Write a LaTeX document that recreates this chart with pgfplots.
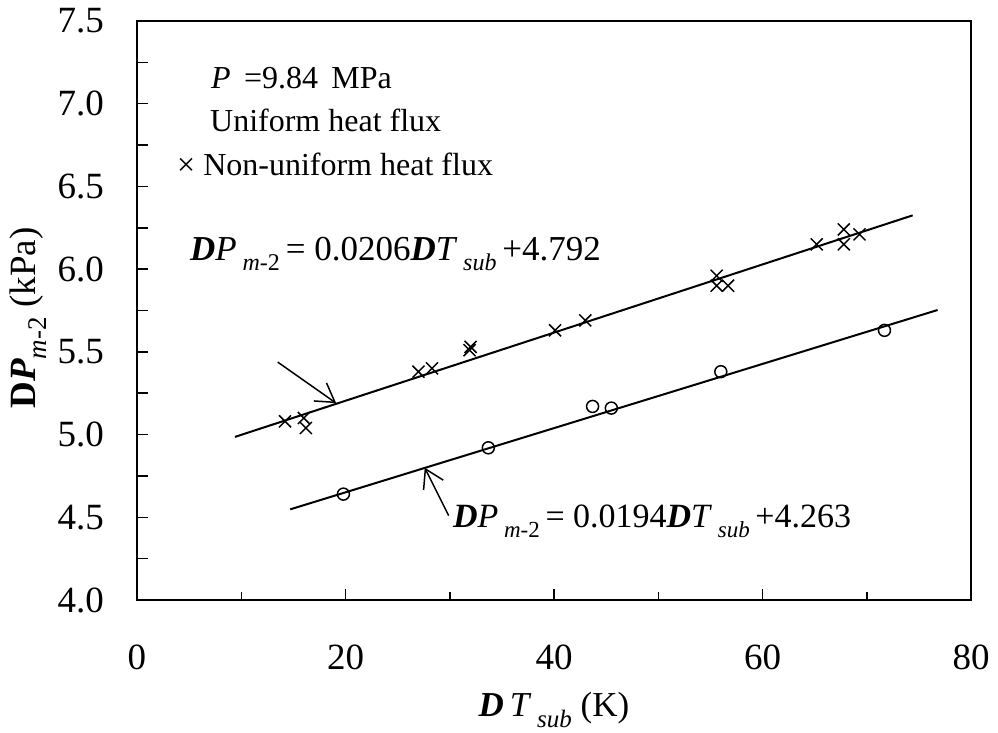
\documentclass[border=0pt]{standalone}
\usepackage{fontspec}
\setmainfont{Liberation Serif}
\usepackage{pgfplots}
\pgfplotsset{compat=1.18}
\usetikzlibrary{arrows.meta}
\newcommand{\fs}[1]{\fontsize{#1}{#1}\selectfont}
\newcommand{\sbs}[2][24]{\raisebox{-0.3em}{\fs{#1}#2}}
\begin{document}
\begin{tikzpicture}[x=1pt,y=1pt]
\useasboundingbox (0,0) rectangle (998,733);
\begin{axis}[
  at={(137pt,133pt)}, anchor=south west,
  width=834pt, height=579pt, scale only axis,
  xmin=0, xmax=80, ymin=4, ymax=7.5,
  axis line style={line width=2pt},
  xtick={0,20,40,60,80}, xticklabels={0,20,40,60,80},
  minor xtick={10,30,50,70},
  ytick={4,4.25,...,7.5},
  yticklabels={4.0,,4.5,,5.0,,5.5,,6.0,,6.5,,7.0,,7.5},
  tick align=inside, xtick pos=bottom, ytick pos=left,
  major tick length=11pt, minor tick length=8pt,
  every tick/.style={line width=1.5pt, black},
  xticklabel style={font=\fs{37}, inner sep=0pt, anchor=north, yshift=-45pt},
  yticklabel style={font=\fs{37}, inner sep=0pt, anchor=east, xshift=-33pt},
  clip=false,
]
% uniform heat flux (circles)
\addplot[only marks, mark=o, mark size=6pt, line width=1.5pt] coordinates {
 (19.8,4.64) (33.7,4.92) (43.7,5.17) (45.5,5.16) (56.0,5.38) (71.7,5.63)
};
% non-uniform heat flux (crosses)
\addplot[only marks, mark=x, mark size=8.5pt, line width=1.5pt] coordinates {
 (14.2,5.08) (16.0,5.10) (16.2,5.04) (27.0,5.38) (28.3,5.40) (32.0,5.53)
 (31.9,5.51) (40.1,5.63) (43.0,5.69) (55.6,5.96) (55.6,5.90) (56.7,5.90)
 (65.2,6.15) (67.8,6.24) (67.8,6.15) (69.3,6.21)
};
% fitted lines
\addplot[line width=2pt, no marks] coordinates {(9.4,4.986) (74.4,6.325)};
\addplot[line width=2pt, no marks] coordinates {(14.7,4.548) (76.8,5.753)};
% arrows
\draw[line width=1.5pt, -{Straight Barb[length=18pt,width=22pt]}] (axis cs:13.5,5.438) -- (axis cs:19.1,5.19);
\draw[line width=1.5pt, -{Straight Barb[length=18pt,width=22pt]}] (axis cs:29.9,4.51) -- (axis cs:27.6,4.80);
% equations
\node[anchor=base west, inner sep=0pt, font=\fs{35}] at (axis cs:5.08,6.054)
 {\textbf{\textit{D}}\textit{P}\,\sbs{\textit{m}-2}\,= 0.0206\textbf{\textit{D}}\textit{T}\,\sbs{\textit{sub}}\,+4.792};
\node[anchor=base west, inner sep=0pt, font=\fs{34}] at (axis cs:30.3,4.441)
 {\textbf{\textit{D}}\textit{P}\,\sbs[23]{\textit{m}-2}\,= 0.0194\textbf{\textit{D}}\textit{T}\,\sbs[23]{\textit{sub}}\,+4.263};
% legend texts
\node[anchor=base west, inner sep=0pt, font=\fs{32}] at (axis cs:7.10,7.094) {\textit{P}\, =9.84\, MPa};
\node[anchor=base west, inner sep=0pt, font=\fs{32}] at (axis cs:7.0,6.834) {Uniform heat flux};
\node[anchor=base west, inner sep=0pt, font=\fs{32}] at (axis cs:3.84,6.568) {× Non-uniform heat flux};
% axis labels
\node[anchor=base, inner sep=0pt, font=\fs{35}] at (axis cs:40,3.293)
 {\textbf{\textit{D}}\,\textit{T}\,\sbs[25]{\textit{sub}} (K)};
\node[rotate=90, anchor=center, inner sep=0pt, font=\fs{37}] at (axis cs:-10.46,5.704)
 {\textbf{D}\textbf{\textit{P}}\sbs[27]{\textit{m}-2} (kPa)};
\end{axis}
\end{tikzpicture}
\end{document}
